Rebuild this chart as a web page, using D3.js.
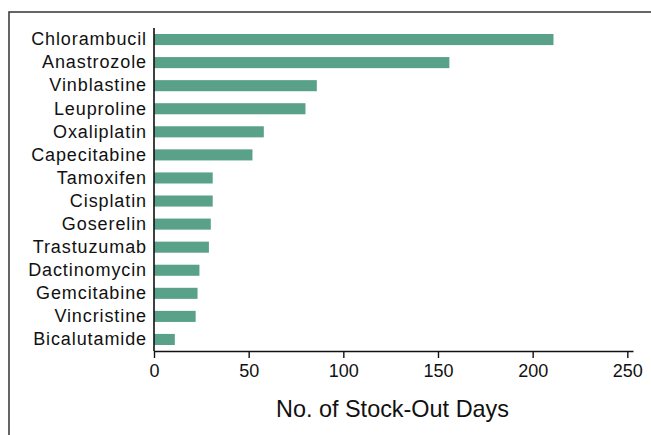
<!DOCTYPE html>
<html>
<head>
<meta charset="utf-8">
<script src="https://cdn.jsdelivr.net/npm/d3@7"></script>
<style>
  html, body { margin: 0; padding: 0; background: #fff; }
  svg { display: block; }
  text { font-family: "Liberation Sans", Arial, Helvetica, sans-serif; fill: #111; }
</style>
</head>
<body>
<svg id="chart" width="651" height="435"></svg>
<script>
const drugs = ["Chlorambucil","Anastrozole","Vinblastine","Leuproline","Oxaliplatin","Capecitabine","Tamoxifen","Cisplatin","Goserelin","Trastuzumab","Dactinomycin","Gemcitabine","Vincristine","Bicalutamide"];
const stockOutDays = [211, 156, 86, 80, 58, 52, 31, 31, 30, 29, 24, 23, 22, 11];
const xTicks = [0, 50, 100, 150, 200, 250];
const xTitle = "No. of Stock-Out Days";

const svg = d3.select("#chart");

// frame (top and left edges)
svg.append("path")
  .attr("d", "M9,435 L9,12 L651,12")
  .attr("fill", "none")
  .attr("stroke", "#333")
  .attr("stroke-width", 1.5);

const x = d3.scaleLinear().domain([0, 253]).range([154, 633]);
const y = d3.scaleBand().domain(drugs).range([28, 351]).paddingInner(0.52).paddingOuter(0.26);

// bars
svg.append("g").selectAll("rect")
  .data(drugs)
  .join("rect")
  .attr("x", x(0))
  .attr("y", d => y(d))
  .attr("width", (d, i) => x(stockOutDays[i]) - x(0))
  .attr("height", y.bandwidth())
  .attr("fill", "#59a188");

// x axis
const xAxis = svg.append("g")
  .attr("transform", "translate(0,351)")
  .call(d3.axisBottom(x).tickValues(xTicks).tickSizeOuter(0).tickSizeInner(7).tickPadding(6));
xAxis.select(".domain").attr("stroke", "#111").attr("stroke-width", 1.6);
xAxis.selectAll(".tick line").attr("stroke", "#111").attr("stroke-width", 1.4);
xAxis.selectAll(".tick text")
  .attr("font-size", 18)
  .attr("font-family", "'Liberation Sans', Arial, sans-serif")
  .attr("fill", "#111");

// y axis
const yAxis = svg.append("g")
  .attr("transform", "translate(154,0)")
  .call(d3.axisLeft(y).tickSize(0).tickPadding(7));
yAxis.select(".domain").attr("stroke", "#111").attr("stroke-width", 1.6)
  .attr("d", "M0,28 V351");
yAxis.selectAll(".tick text")
  .attr("font-size", 18)
  .attr("letter-spacing", 0.9)
  .attr("font-family", "'Liberation Sans', Arial, sans-serif")
  .attr("fill", "#111");

// x title
svg.append("text")
  .attr("x", (x(0) + x(253)) / 2 - 1)
  .attr("y", 417)
  .attr("text-anchor", "middle")
  .attr("font-size", 24)
  .attr("textLength", 233)
  .attr("lengthAdjust", "spacingAndGlyphs")
  .text(xTitle);
</script>
</body>
</html>
